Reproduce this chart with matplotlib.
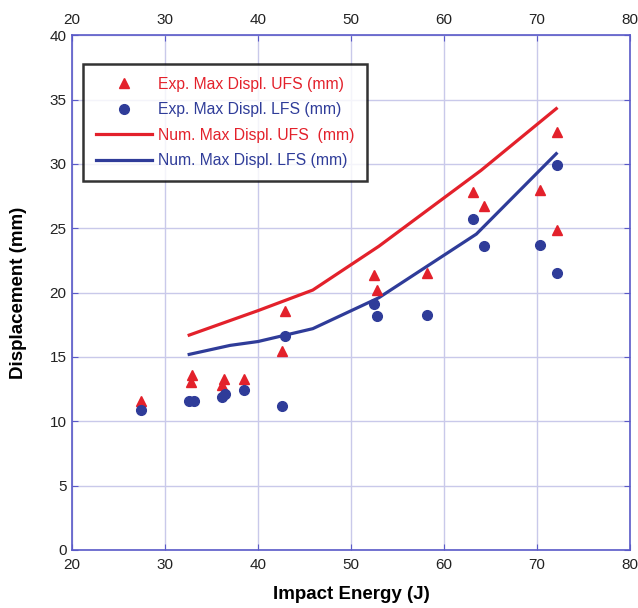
import matplotlib.pyplot as plt
from matplotlib import font_manager

# Experimental max displacement, upper face sheet (UFS) and lower face sheet (LFS)
exp_ufs_energy = [27.4, 32.9, 32.8, 36.3, 36.1, 38.5, 42.9, 42.6, 52.5, 52.8, 58.2, 63.15, 64.3, 70.4, 72.2, 72.2]
exp_ufs_disp = [11.6, 13.6, 13.05, 13.25, 12.8, 13.25, 18.55, 15.5, 21.4, 20.2, 21.5, 27.8, 26.7, 28.0, 32.5, 24.9]

exp_lfs_energy = [27.4, 32.6, 33.1, 36.1, 36.4, 38.5, 42.9, 42.6, 52.5, 52.8, 58.2, 63.15, 64.3, 70.4, 72.2, 72.2]
exp_lfs_disp = [10.9, 11.6, 11.6, 11.9, 12.1, 12.4, 16.6, 11.2, 19.1, 18.2, 18.3, 25.7, 23.6, 23.7, 29.9, 21.5]

# Numerical curves
num_ufs_energy = [32.6, 40.0, 45.9, 53.0, 64.0, 72.1]
num_ufs_disp = [16.7, 18.6, 20.2, 23.6, 29.5, 34.3]

num_lfs_energy = [32.6, 37.0, 40.0, 45.9, 53.0, 63.5, 72.1]
num_lfs_disp = [15.2, 15.9, 16.2, 17.2, 19.6, 24.55, 30.8]

RED = '#e3212b'
BLUE = '#2f3c99'
AXIS_BLUE = '#5a5ac8'
GRID = '#c9c9ea'

names = {f.name for f in font_manager.fontManager.ttflist}
if 'Liberation Sans Narrow' in names:
    label_font, label_size = 'Liberation Sans Narrow', 15
else:
    label_font, label_size = 'Liberation Sans', 13.5
plt.rcParams['font.family'] = ['Liberation Sans', 'DejaVu Sans']

fig = plt.figure(figsize=(6.38, 6.08), dpi=100)
ax = fig.add_axes([0.113, 0.0954, 0.874, 0.8466])

ax.plot(exp_ufs_energy, exp_ufs_disp, '^', color=RED, markersize=7, linestyle='none',
        label='Exp. Max Displ. UFS (mm)', zorder=3)
ax.plot(exp_lfs_energy, exp_lfs_disp, 'o', color=BLUE, markersize=7, linestyle='none',
        label='Exp. Max Displ. LFS (mm)', zorder=3)
ax.plot(num_ufs_energy, num_ufs_disp, '-', color=RED, linewidth=2.3,
        label='Num. Max Displ. UFS  (mm)', zorder=2)
ax.plot(num_lfs_energy, num_lfs_disp, '-', color=BLUE, linewidth=2.3,
        label='Num. Max Displ. LFS (mm)', zorder=2)

ax.set_xlim(20, 80)
ax.set_ylim(0, 40)
ax.set_xticks(range(20, 81, 10))
ax.set_yticks(range(0, 41, 5))
ax.grid(True, color=GRID, linewidth=1.0)
ax.set_axisbelow(True)

for s in ax.spines.values():
    s.set_color(AXIS_BLUE)
    s.set_linewidth(1.2)

ax.tick_params(axis='x', which='both', top=True, labeltop=True, direction='in',
               length=4, color=AXIS_BLUE, labelsize=11, pad=6, labelcolor='#222222')
ax.tick_params(axis='y', direction='in', length=4, color=AXIS_BLUE, right=True,
               labelsize=11, pad=4, labelcolor='#222222')

ax.set_xlabel('Impact Energy (J)', fontsize=label_size, fontweight='bold', family=label_font, labelpad=10)
ax.set_ylabel('Displacement (mm)', fontsize=label_size, fontweight='bold', family=label_font, labelpad=16)

leg = ax.legend(loc='upper left', bbox_to_anchor=(0.0197, 0.944), borderaxespad=0,
                fontsize=11.3, frameon=True, fancybox=False, edgecolor='black',
                handlelength=3.6, borderpad=0.8, labelspacing=0.67, handletextpad=0.35)
leg.get_frame().set_linewidth(1.8)
for text, c in zip(leg.get_texts(), [RED, BLUE, RED, BLUE]):
    text.set_color(c)

fig.savefig('out.png', dpi=100)
